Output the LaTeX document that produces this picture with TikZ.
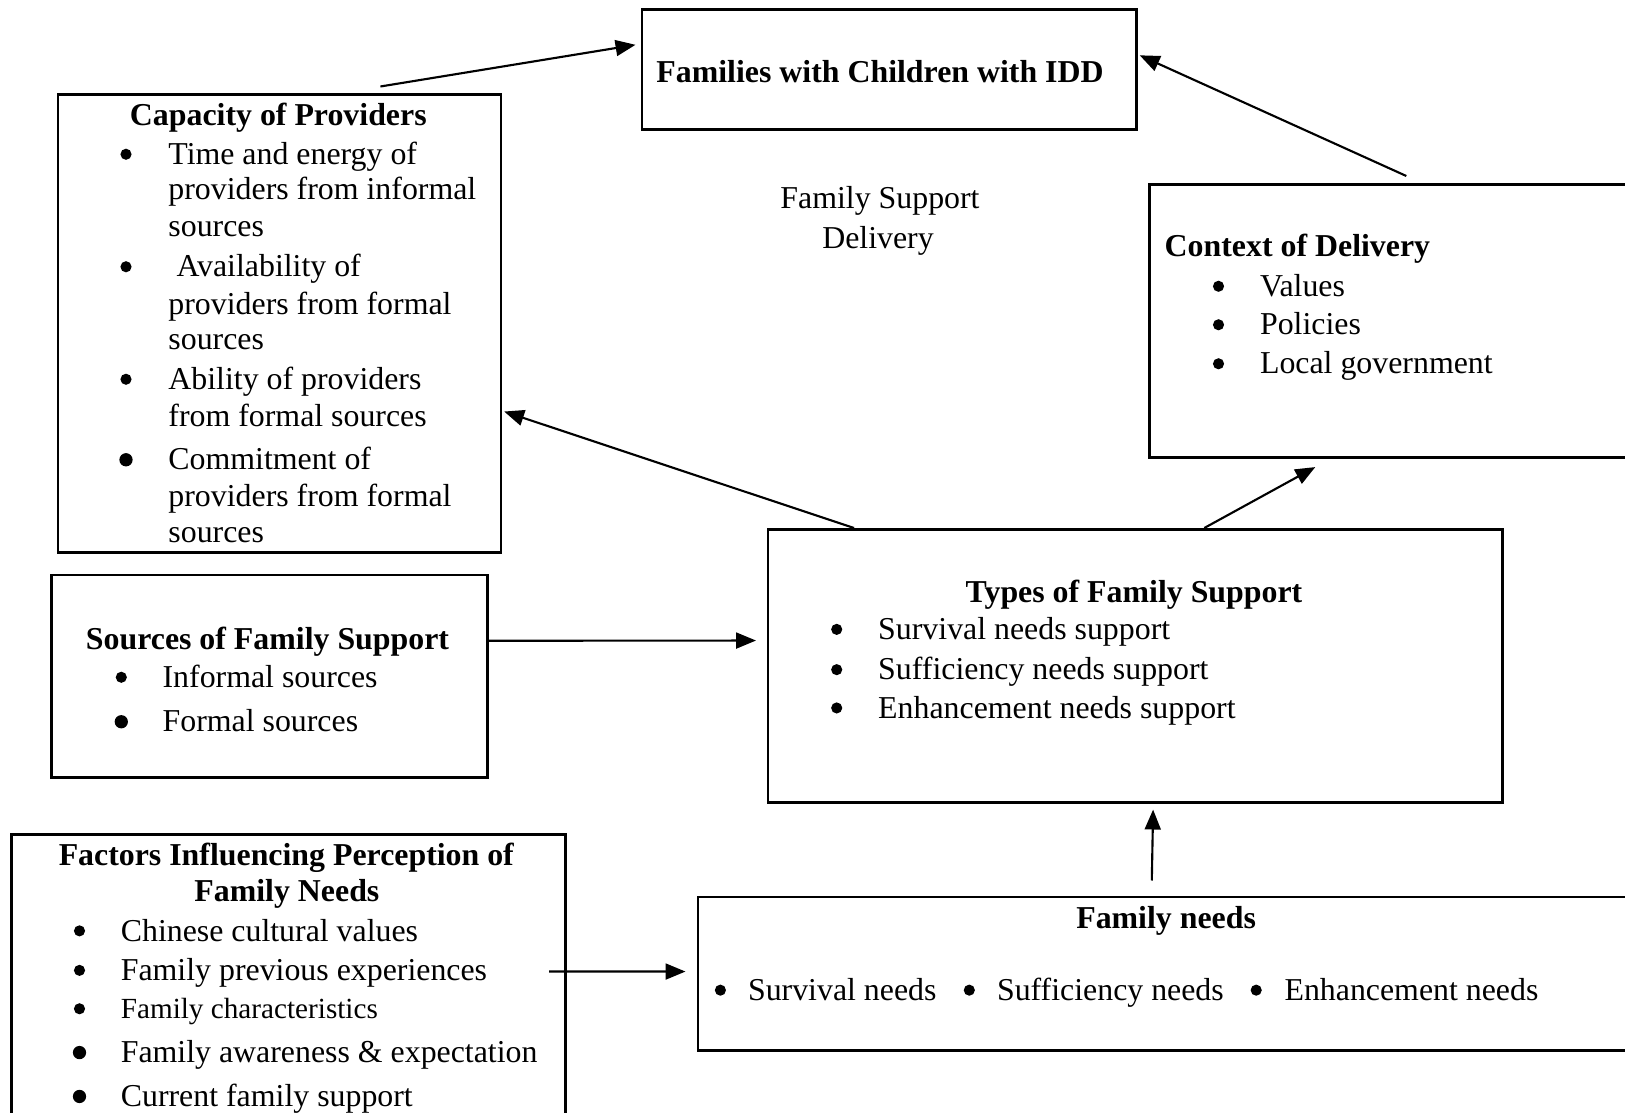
\documentclass[tikz,border=0pt]{standalone}
\usepackage{fontspec}
\setmainfont{Liberation Serif}
\usetikzlibrary{arrows.meta}

\tikzset{
    box/.style={draw, line width=1pt, anchor=north west, inner sep=0pt},
    txt/.style={anchor=base west, inner sep=0pt, yshift=-0.75pt, font=\fontsize{12}{13.8}\selectfont},
    ttl/.style={anchor=base, inner sep=0pt, yshift=-0.75pt, font=\fontsize{12}{13.8}\selectfont\bfseries},
    dot/.style={circle, fill, inner sep=0pt, minimum size=4.2pt, yshift=3.1pt},
    bigdot/.style={dot, minimum size=5pt},
    arr/.style={-{Triangle[length=7.5pt,width=6pt]}, line width=0.8pt}
}

\begin{document}
\begin{tikzpicture}[x=0.3767pt, y=-0.3767pt]
            \useasboundingbox (0,0) rectangle (1625,1113);
            \clip (0,0) rectangle (1625,1113);

            \node[box, minimum width=186.3pt, minimum height=45.2pt] (fam) at (640.5,8.5) {};
            \node[box, minimum width=166.8pt, minimum height=172.3pt] (cap) at (56.7,93.5) {};
            \node[box, minimum width=192.8pt, minimum height=103pt] (ctx) at (1148.3,183) {};
            \node[box, minimum width=276.7pt, minimum height=103pt] (types) at (766.5,528) {};
            \node[box, minimum width=164.2pt, minimum height=76.2pt] (src) at (50.2,573.8) {};
            \node[box, minimum width=208.9pt, minimum height=115.5pt] (fac) at (9.9,833.4) {};
            \node[box, minimum width=362.8pt, minimum height=57.8pt] (needs) at (696.8,895.5) {};

            \node[ttl] (famT) at (880,81) {Families with Children with IDD};

            \node[ttl] (capT) at (278.3,124) {Capacity of Providers};
            \node[dot] (capD1) at (126,162.5) {};
            \node[txt] (cap1a) at (167.9,162.5) {Time and energy of};
            \node[txt] (cap1b) at (167.9,198) {providers from informal};
            \node[txt] (cap1c) at (167.9,235) {sources};
            \node[dot] (capD2) at (126,275) {};
            \node[txt] (cap2a) at (176,275) {Availability of};
            \node[txt] (cap2b) at (167.9,312.5) {providers from formal};
            \node[txt] (cap2c) at (167.9,348) {sources};
            \node[dot] (capD3) at (126,387.5) {};
            \node[txt] (cap3a) at (167.9,387.5) {Ability of providers};
            \node[txt] (cap3b) at (167.9,425) {from formal sources};
            \node[bigdot] (capD4) at (126,468) {};
            \node[txt] (cap4a) at (167.9,468) {Commitment of};
            \node[txt] (cap4b) at (167.9,505) {providers from formal};
            \node[txt] (cap4c) at (167.9,541) {sources};

            \node[txt, anchor=base] (fsd1) at (880,207) {Family Support};
            \node[txt, anchor=base] (fsd2) at (878,246.5) {Delivery};

            \node[txt, font=\fontsize{12}{13.8}\selectfont\bfseries] (ctxT) at (1164.2,254.5) {Context of Delivery};
            \node[dot] (ctxD1) at (1218.5,294.5) {};
            \node[txt] (ctx1) at (1259.5,294.5) {Values};
            \node[dot] (ctxD2) at (1218.5,333) {};
            \node[txt] (ctx2) at (1259.5,333) {Policies};
            \node[dot] (ctxD3) at (1218.5,372) {};
            \node[txt] (ctx3) at (1259.5,372) {Local government};

            \node[ttl] (typesT) at (1134,600.5) {Types of Family Support};
            \node[dot] (typesD1) at (836.7,637.6) {};
            \node[txt] (types1) at (877.7,637.6) {Survival needs support};
            \node[dot] (typesD2) at (836.7,677.9) {};
            \node[txt] (types2) at (877.7,677.9) {Sufficiency needs support};
            \node[dot] (typesD3) at (836.7,716.2) {};
            \node[txt] (types3) at (877.7,716.2) {Enhancement needs support};

            \node[ttl] (srcT) at (267.5,647.8) {Sources of Family Support};
            \node[dot] (srcD1) at (121.3,685.5) {};
            \node[txt] (src1) at (162.1,685.5) {Informal sources};
            \node[bigdot] (srcD2) at (121.3,730) {};
            \node[txt] (src2) at (162.1,730) {Formal sources};

            \node[ttl] (facT1) at (286.3,863.5) {Factors Influencing Perception of};
            \node[ttl] (facT2) at (286.9,900) {Family Needs};
            \node[dot] (facD1) at (79.5,939.1) {};
            \node[txt] (fac1) at (120.3,939.1) {Chinese cultural values};
            \node[dot] (facD2) at (79.5,978.6) {};
            \node[txt] (fac2) at (120.3,978.6) {Family previous experiences};
            \node[dot] (facD3) at (79.5,1017) {};
            \node[txt, font=\fontsize{11}{12.65}\selectfont] (fac3) at (120.3,1017) {Family characteristics};
            \node[bigdot] (facD4) at (79.5,1060.8) {};
            \node[txt] (fac4) at (120.3,1060.8) {Family awareness \& expectation};
            \node[bigdot] (facD5) at (79.5,1104.7) {};
            \node[txt] (fac5) at (120.3,1104.7) {Current family support};

            \node[ttl] (needsT) at (1166.1,926.1) {Family needs};
            \node[dot] (needsD1) at (720.4,998.4) {};
            \node[txt] (needs1) at (747.5,998.4) {Survival needs};
            \node[dot] (needsD2) at (969.3,998.4) {};
            \node[txt] (needs2) at (996.5,998.4) {Sufficiency needs};
            \node[dot] (needsD3) at (1256.2,998.4) {};
            \node[txt] (needs3) at (1284,998.4) {Enhancement needs};

            \draw[arr] ([shift={(101,-7)}]cap.north) -- ([shift={(-5,-25)}]fam.west);
            \draw[arr] ([shift={(258,-7)}]ctx.north west) -- ([shift={(2,-14.5)}]fam.east);
            \draw[arr] ([shift={(87.5,0)}]types.north west) -- ([shift={(2,88)}]cap.east);
            \draw[arr] ([shift={(437.8,0)}]types.north west) -- ([shift={(167,8)}]ctx.south west);
            \draw[arr] ([shift={(0,-35.5)}]src.east) -- ([shift={(-10.5,-25.5)}]types.west);
            \draw[arr] ([shift={(455,-15)}]needs.north west) -- ([shift={(18,5.5)}]types.south);
            \draw[arr] ([shift={(-18,-16.5)}]fac.east) -- ([shift={(-11.3,-2)}]needs.west);
        \end{tikzpicture}
\end{document}
